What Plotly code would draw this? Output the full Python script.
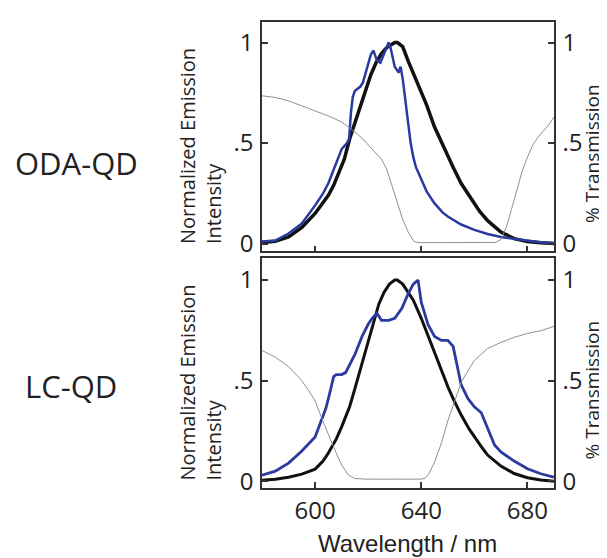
import plotly.graph_objects as go

# ---------------- data ----------------
# ODA-QD panel
oda_black_wl = [580, 585, 590, 595, 600, 605, 607, 609, 611, 613, 615, 617, 619, 621, 623, 625, 627, 629, 630, 631,
                633, 635, 637, 640, 642, 645, 648, 650, 652, 655, 658, 660, 662, 665, 668, 670, 675, 680, 685, 690]
oda_black = [0.005, 0.012, 0.033, 0.08, 0.15, 0.24, 0.29, 0.35, 0.42, 0.52, 0.60, 0.68, 0.76, 0.84, 0.90, 0.945, 0.975,
             0.993, 1.0, 1.0, 0.98, 0.91, 0.85, 0.75, 0.69, 0.58, 0.49, 0.43, 0.38, 0.30, 0.24, 0.196, 0.16, 0.114,
             0.08, 0.057, 0.025, 0.01, 0.004, 0.0]

oda_blue_wl = [580, 585, 590, 595, 600, 603, 605, 608, 610, 612, 612.8, 613.5, 614.2, 615, 617, 618, 619.5, 621, 622,
               623.3, 624.6, 626, 627.7, 628.5, 630, 631.5, 632.2, 633, 634, 635, 636, 637, 638, 640, 642, 645, 648,
               650, 655, 660, 665, 670, 675, 680, 685, 690]
oda_blue = [0.01, 0.015, 0.05, 0.10, 0.19, 0.25, 0.30, 0.40, 0.47, 0.50, 0.52, 0.65, 0.73, 0.76, 0.78, 0.80, 0.87,
            0.94, 0.96, 0.91, 0.90, 0.95, 1.0, 0.97, 0.88, 0.85, 0.88, 0.82, 0.72, 0.61, 0.50, 0.43, 0.38, 0.32, 0.26,
            0.20, 0.155, 0.135, 0.095, 0.068, 0.048, 0.033, 0.024, 0.015, 0.007, 0.002]

oda_trans_wl = [580, 585, 590, 595, 600, 605, 610, 615, 618, 620, 623, 625, 627, 629, 631, 633, 635, 637, 638, 640,
                650, 660, 668, 670, 672, 674, 676, 678, 680, 682, 684, 686, 688, 690]
oda_trans = [0.735, 0.727, 0.71, 0.686, 0.66, 0.635, 0.605, 0.555, 0.52, 0.49, 0.45, 0.42, 0.37, 0.29, 0.20, 0.12,
             0.06, 0.015, 0.007, 0.005, 0.005, 0.005, 0.006, 0.02, 0.08, 0.17, 0.27, 0.36, 0.43, 0.49, 0.53, 0.56,
             0.59, 0.63]

# LC-QD panel
lc_black_wl = [580, 585, 590, 595, 600, 603, 605, 608, 610, 613, 615, 618, 620, 622, 624, 626, 628, 630, 631, 633,
               635, 637, 640, 642, 645, 648, 650, 652, 655, 658, 660, 663, 665, 668, 670, 675, 680, 685, 690]
lc_black = [0.005, 0.01, 0.02, 0.035, 0.06, 0.10, 0.14, 0.21, 0.27, 0.37, 0.46, 0.60, 0.70, 0.80, 0.88, 0.94, 0.98,
            1.0, 1.0, 0.98, 0.94, 0.90, 0.81, 0.74, 0.64, 0.54, 0.47, 0.41, 0.33, 0.26, 0.22, 0.165, 0.13, 0.095,
            0.075, 0.038, 0.017, 0.006, 0.0]

lc_blue_wl = [580, 585, 590, 595, 600, 602, 604, 605, 606, 607, 608, 610, 611.5, 613, 615, 617.7, 620, 621.5, 623.3,
              625, 627.7, 630, 632.7, 635, 637, 638.8, 640, 642.5, 645, 647.6, 650, 652, 655, 657.6, 660, 662.6, 665,
              667.6, 670, 675, 680, 685, 690]
lc_blue = [0.03, 0.05, 0.09, 0.15, 0.22, 0.29, 0.36, 0.41, 0.47, 0.52, 0.53, 0.53, 0.54, 0.58, 0.63, 0.72, 0.78,
           0.81, 0.835, 0.80, 0.80, 0.81, 0.86, 0.93, 0.98, 1.0, 0.89, 0.78, 0.72, 0.70, 0.70, 0.67, 0.48, 0.41,
           0.37, 0.34, 0.26, 0.18, 0.145, 0.10, 0.062, 0.037, 0.02]

lc_trans_wl = [580, 585, 590, 595, 597.6, 600, 602.6, 605, 607.6, 610, 612.6, 615, 620, 630, 640, 641.5, 643, 645,
               647.6, 650, 652.6, 655, 657.6, 660, 665, 670, 675, 680, 685, 690]
lc_trans = [0.65, 0.617, 0.57, 0.50, 0.45, 0.40, 0.31, 0.23, 0.15, 0.08, 0.03, 0.013, 0.01, 0.01, 0.01, 0.015, 0.04,
            0.095, 0.19, 0.30, 0.40, 0.49, 0.55, 0.60, 0.66, 0.69, 0.715, 0.735, 0.748, 0.77]

x_ticks = [600, 640, 680]
y_ticks = [0, 0.5, 1]
y_ticktext = ["0", ".5", "1"]
panel_labels = ["ODA-QD", "LC-QD"]

# ---------------- styling ----------------
W, H = 607, 558
BLACK = "#111111"
BLUE = "#2a3aa0"
GRAY = "#8a9298"
AXC = "#333333"
TXT = "#222222"
TICKFONT = dict(family="Open Sans", size=24, color=TXT)

xdom = [254 / W, 546 / W]
top_dom = [1 - 247 / H, 1 - 14 / H]
bot_dom = [1 - 487 / H, 1 - 254 / H]

fig = go.Figure()

def add(x, y, color, width, xa, ya):
    fig.add_trace(go.Scatter(x=x, y=y, mode="lines", xaxis=xa, yaxis=ya,
                             line=dict(color=color, width=width), showlegend=False, hoverinfo="skip"))

add(oda_trans_wl, oda_trans, GRAY, 1, "x", "y2")
add(oda_black_wl, oda_black, BLACK, 3.5, "x", "y")
add(oda_blue_wl, oda_blue, BLUE, 2.5, "x", "y")
add(lc_trans_wl, lc_trans, GRAY, 1, "x2", "y4")
add(lc_black_wl, lc_black, BLACK, 3, "x2", "y3")
add(lc_blue_wl, lc_blue, BLUE, 2.8, "x2", "y3")

xcommon = dict(domain=xdom, range=[580, 690], tickvals=x_ticks, ticks="inside", ticklen=6, tickwidth=1.5,
               tickcolor=AXC, showline=True, linecolor=AXC, linewidth=1.5, mirror=True, showgrid=False,
               zeroline=False, tickfont=TICKFONT)
ycommon = dict(tickvals=y_ticks, ticktext=y_ticktext, ticks="inside", ticklen=6, tickwidth=1.5, tickcolor=AXC,
               showline=True, linecolor=AXC, linewidth=1.5, showgrid=False, zeroline=False, tickfont=TICKFONT,
               ticklabelstandoff=2)

top_range = [-0.039, 1.103]
bot_range = [-0.034, 1.108]

fig.update_layout(
    width=W, height=H, margin=dict(l=0, r=0, t=0, b=0),
    paper_bgcolor="white", plot_bgcolor="white",
    xaxis=dict(anchor="y", showticklabels=False, **xcommon),
    xaxis2=dict(anchor="y3", showticklabels=True, ticklabelstandoff=0, **xcommon),
    yaxis=dict(domain=top_dom, range=top_range, anchor="x", mirror=True, side="left", **ycommon),
    yaxis2=dict(range=top_range, overlaying="y", anchor="x", side="right", **ycommon),
    yaxis3=dict(domain=bot_dom, range=bot_range, anchor="x2", mirror=True, side="left", **ycommon),
    yaxis4=dict(range=bot_range, overlaying="y3", anchor="x2", side="right", **ycommon),
)

def px(xp, yp):
    return xp / W, 1 - yp / H

ann = []
for label, (cx, cy) in zip(panel_labels, [(68, 157), (63, 383)]):
    x, y = px(cx, cy)
    ann.append(dict(text=label, x=x, y=y, xref="paper", yref="paper", showarrow=False,
                    font=dict(family="Open Sans", size=31, color=TXT), xanchor="center", yanchor="middle"))
for cy in [140, 380]:
    x, y = px(193, cy)
    ann.append(dict(text="Normalized Emission<br>Intensity", x=x, y=y, xref="paper", yref="paper",
                    showarrow=False, textangle=-90, align="left",
                    font=dict(family="Open Sans", size=20, color=TXT), xanchor="center", yanchor="middle"))
for cy in [148, 388]:
    x, y = px(584, cy)
    ann.append(dict(text="% Transmission", x=x, y=y, xref="paper", yref="paper",
                    showarrow=False, textangle=-90,
                    font=dict(family="Open Sans", size=19, color=TXT), xanchor="center", yanchor="middle"))
x, y = px(400, 543)
ann.append(dict(text="Wavelength / nm", x=x, y=y, xref="paper", yref="paper", showarrow=False,
                font=dict(family="Liberation Sans", size=24, color=TXT), xanchor="center", yanchor="middle"))
fig.update_layout(annotations=ann)

fig.write_html("out.html")
